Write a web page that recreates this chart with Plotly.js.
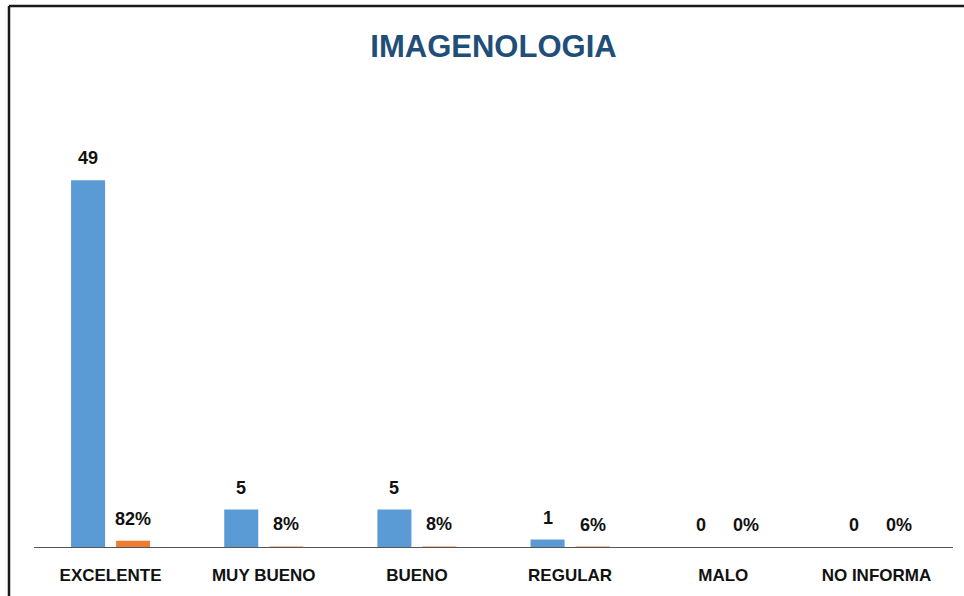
<!DOCTYPE html>
<html>
<head>
<meta charset="utf-8">
<script src="https://cdn.plot.ly/plotly-3.0.1.min.js"></script>
<style>
html,body{margin:0;padding:0;background:#fff;}
#chart{width:964px;height:596px;}
</style>
</head>
<body>
<div id="chart"></div>
<script>
const categories = ["EXCELENTE", "MUY BUENO", "BUENO", "REGULAR", "MALO", "NO INFORMA"];
const counts = [49, 5, 5, 1, 0, 0];
const percents = [0.82, 0.08, 0.08, 0.06, 0, 0];
const percentLabels = ["82%", "8%", "8%", "6%", "0%", "0%"];

const labelFont = {family: "Liberation Sans, Arial, sans-serif", size: 18, color: "#111111"};
const annotations = [];
categories.forEach((c, i) => {
  annotations.push({x: c, y: counts[i], xref: "x", yref: "y", text: "<b>" + counts[i] + "</b>",
    showarrow: false, xshift: -22.5, yshift: 22, yanchor: "middle", font: labelFont});
  annotations.push({x: c, y: percents[i], xref: "x", yref: "y", text: "<b>" + percentLabels[i] + "</b>",
    showarrow: false, xshift: 22.5, yshift: 22, yanchor: "middle", font: labelFont});
});

const traces = [
  {type: "bar", name: "Cantidad", x: categories, y: counts, marker: {color: "#5B9BD5"}, hoverinfo: "none"},
  {type: "bar", name: "Porcentaje", x: categories, y: percents, marker: {color: "#ED7D31"}, hoverinfo: "none"}
];

const layout = {
  width: 964, height: 596,
  margin: {l: 34, r: 11, t: 98, b: 49, pad: 0},
  paper_bgcolor: "#ffffff", plot_bgcolor: "#ffffff",
  showlegend: false,
  barmode: "group",
  bargap: 0.4124,
  bargroupgap: 0.244,
  title: {text: "<b>IMAGENOLOGIA</b>", x: 0.5, xref: "paper", y: 1 - 46/596, yanchor: "middle",
    font: {family: "Liberation Sans, Arial, sans-serif", size: 31, color: "#1F4E79"}},
  xaxis: {showline: true, linecolor: "#555555", linewidth: 1.3, showgrid: false, zeroline: false,
    ticks: "", ticklabelstandoff: 12,
    tickfont: {family: "Liberation Sans, Arial, sans-serif", size: 17, color: "#111111"},
    tickprefix: "<b>", ticksuffix: "</b>", fixedrange: true},
  yaxis: {range: [0, 60], visible: false, showgrid: false, zeroline: false, fixedrange: true},
  annotations: annotations,
  shapes: [
    {type: "line", xref: "paper", yref: "paper", x0: -0.0272, x1: -0.0272, y0: -0.2, y1: 1.2049,
      line: {color: "#1a1a1a", width: 2.5}},
    {type: "line", xref: "paper", yref: "paper", x0: -0.0272, x1: 1.1, y0: 1.2049, y1: 1.2049,
      line: {color: "#1a1a1a", width: 2.5}}
  ]
};

Plotly.newPlot("chart", traces, layout, {displayModeBar: false, staticPlot: true});
</script>
</body>
</html>
